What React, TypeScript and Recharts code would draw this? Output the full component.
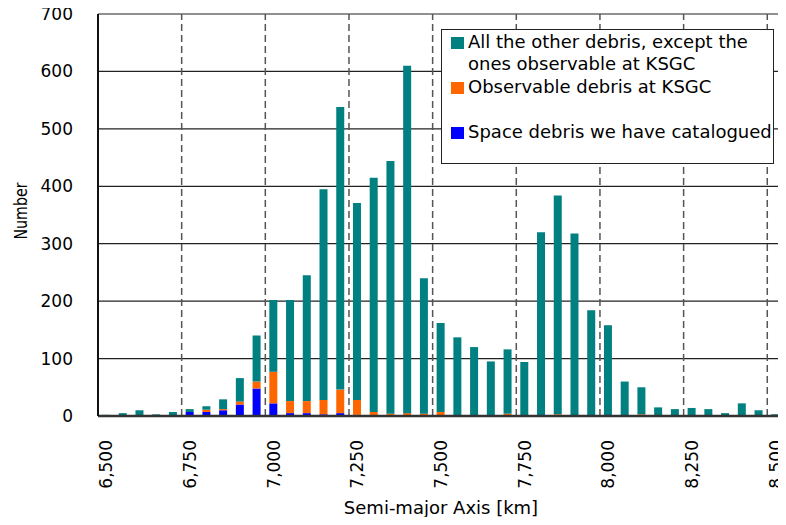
import { Bar, BarChart, CartesianGrid, Label, Legend, ReferenceLine, XAxis, YAxis } from "recharts";

// 50 km bins of semi-major axis
const semiMajorAxis = [
  6500, 6550, 6600, 6650, 6700, 6750, 6800, 6850, 6900, 6950,
  7000, 7050, 7100, 7150, 7200, 7250, 7300, 7350, 7400, 7450,
  7500, 7550, 7600, 7650, 7700, 7750, 7800, 7850, 7900, 7950,
  8000, 8050, 8100, 8150, 8200, 8250, 8300, 8350, 8400, 8450, 8500,
];
const catalogued = [
  0, 0, 0, 2, 0, 7, 7, 10, 20, 48,
  22, 5, 5, 3, 5, 2, 0, 0, 0, 0,
  0, 0, 0, 0, 0, 0, 0, 0, 0, 0,
  0, 0, 0, 0, 0, 0, 0, 0, 0, 0, 0,
];
const observable = [
  0, 0, 0, 0, 1, 0, 4, 2, 5, 12,
  55, 21, 21, 25, 41, 26, 7, 4, 5, 4,
  7, 0, 1, 1, 4, 1, 0, 3, 0, 0,
  1, 0, 3, 0, 0, 0, 1, 0, 0, 0, 0,
];
const otherDebris = [
  2, 5, 10, 1, 6, 5, 6, 17, 41, 80,
  125, 176, 219, 367, 492, 343, 408, 440, 605, 236,
  155, 137, 119, 94, 112, 93, 320, 381, 318, 184,
  157, 60, 47, 15, 12, 14, 11, 5, 22, 10, 3,
];
const xTickLabels = [6500, 6750, 7000, 7250, 7500, 7750, 8000, 8250, 8500];
const yTicks = [0, 100, 200, 300, 400, 500, 600, 700];

// stacking order bottom -> top
const series = [
  { key: "catalogued", name: "Space debris we have catalogued", color: "#0000FF" },
  { key: "observable", name: "Observable debris at KSGC", color: "#FF6600" },
  { key: "other", name: "All the other debris, except the ones observable at KSGC", color: "#008080" },
];

const data = semiMajorAxis.map((a, i) => ({
  a,
  catalogued: catalogued[i],
  observable: observable[i],
  other: otherDebris[i],
}));

const FONT = "'DejaVu Sans', sans-serif";

function XTick({ x, y, payload }: any) {
  return (
    <g transform={`translate(${x},${y})`}>
      <text transform="rotate(-90)" textAnchor="end" dy="0.36em" fontSize={17} fontFamily={FONT} fill="#000">
        {Number(payload.value).toLocaleString("en-US")}
      </text>
    </g>
  );
}

function LegendBox({ payload }: any) {
  const rank = (k: string) => series.findIndex((s) => s.key === k);
  const items = [...(payload || [])].sort((p: any, q: any) => rank(q.dataKey) - rank(p.dataKey));
  return (
    <div
      style={{
        width: 331,
        height: 133,
        border: "1.5px solid #222",
        background: "#fff",
        fontFamily: FONT,
        fontSize: 18,
        color: "#000",
        lineHeight: "22px",
        textAlign: "left",
      }}
    >
      {items.map((it: any) => (
        <div key={it.value} style={{ display: "flex", height: 44, paddingTop: 1 }}>
          <span style={{ width: 13, height: 12, background: it.color, marginLeft: 9, marginTop: 6, marginRight: 4, flex: "none" }} />
          <span style={{ width: 306 }}>{it.value}</span>
        </div>
      ))}
    </div>
  );
}

export default function App() {
  return (
    <div style={{ position: "relative", width: 786, height: 525, margin: -8, background: "#fff" }}>
      <BarChart
        width={786}
        height={525}
        data={data}
        margin={{ top: 14, right: 2, bottom: 0, left: 0 }}
        barSize={8}
      >
        <CartesianGrid vertical={false} stroke="#222" strokeWidth={1.2} />
        <XAxis
          dataKey="a"
          height={109}
          interval={4}
          tick={<XTick />}
          tickSize={0}
          tickMargin={24}
          axisLine={{ stroke: "#333", strokeWidth: 2.5 }}
        >
          <Label
            content={({ viewBox }: any) => (
              <text
                x={viewBox.x + viewBox.width / 2}
                y={viewBox.y + viewBox.height - 11}
                textAnchor="middle"
                fontSize={18}
                fontFamily={FONT}
                fill="#000"
              >
                Semi-major Axis [km]
              </text>
            )}
          />
        </XAxis>
        <XAxis xAxisId="top" orientation="top" dataKey="a" height={0} tick={false} tickLine={false} axisLine={{ stroke: "#999", strokeWidth: 1.5 }} />
        <YAxis
          width={98}
          domain={[0, 700]}
          ticks={yTicks}
          tickSize={0}
          tickMargin={25}
          tickLine={false}
          axisLine={{ stroke: "#111", strokeWidth: 2 }}
          tick={{ fontSize: 17, fontFamily: FONT, fill: "#000" }}
        >
          <Label
            content={({ viewBox }: any) => {
              const cx = viewBox.x + 20;
              const cy = viewBox.y + viewBox.height / 2 - 4;
              return (
                <text
                  x={cx}
                  y={cy}
                  transform={`rotate(-90 ${cx} ${cy})`}
                  textAnchor="middle"
                  dominantBaseline="central"
                  fontSize={18}
                  fontFamily={FONT}
                  fill="#000"
                  textLength={57}
                  lengthAdjust="spacingAndGlyphs"
                >
                  Number
                </text>
              );
            }}
          />
        </YAxis>
        <YAxis yAxisId="right" orientation="right" width={0} domain={[0, 700]} tick={false} tickLine={false} axisLine={{ stroke: "#999", strokeWidth: 1.5 }} />
        {xTickLabels.slice(1).map((t) => (
          <ReferenceLine
            key={t}
            x={t}
            position="start"
            stroke="#555"
            strokeWidth={1.5}
            strokeDasharray="7 4"
          />
        ))}
        {series.map((s) => (
          <Bar key={s.key} dataKey={s.key} name={s.name} stackId="a" fill={s.color} isAnimationActive={false} />
        ))}
        <Legend
          layout="horizontal"
          verticalAlign="middle"
          align="center"
          wrapperStyle={{ left: 441, top: 29, width: 334 }}
          content={<LegendBox />}
        />
      </BarChart>
    </div>
  );
}
